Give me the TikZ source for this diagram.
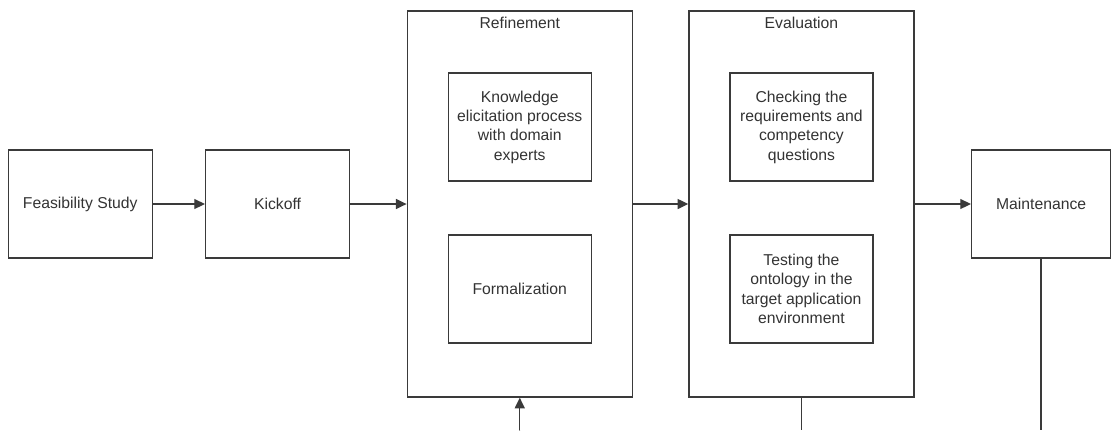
\documentclass[tikz,border=0pt]{standalone}
\usepackage{fontspec}
\setmainfont{Liberation Sans}
\usepackage{xcolor}
\usetikzlibrary{positioning}
\usetikzlibrary{arrows.meta}
\usetikzlibrary{calc}

\definecolor{linegray}{HTML}{3A3A3A}
\definecolor{textgray}{HTML}{333333}

\begin{document}
\begin{tikzpicture}[>={Triangle[length=8pt,width=7.5pt]}, line width=1pt, draw=linegray,
                    font=\fontsize{11.8}{14.5}\selectfont, text=textgray,
                    phase box/.style={rectangle,draw=linegray,minimum width=108pt,minimum height=81pt,align=center},
                    stage box/.style={rectangle,draw=linegray,minimum width=168.75pt,minimum height=289.5pt},
                    task box/.style={rectangle,draw=linegray,minimum width=107.25pt,minimum height=81pt,align=center}]
      \useasboundingbox (0,0) rectangle (835.5pt,-322.5pt);

      % main phases
      \node[phase box] (feas) at (60.2pt,-153pt) {Feasibility Study};
      \node[phase box] (kick) [right=39pt of feas] {Kickoff};
      \node[stage box] (refine) [right=42.25pt of kick] {};
      \node[stage box] (eval) [right=41.5pt of refine] {};
      \node[phase box, minimum width=104.25pt] (maint) [right=42.25pt of eval] {Maintenance};

      % titles of the two stages
      \node[anchor=north, inner sep=4.5pt] (refine title) at (refine.north) {Refinement};
      \node[anchor=north, inner sep=4.5pt] (eval title) at (eval.north) {Evaluation};

      % activities inside the stages
      \node[task box] (elicit) [below=46.5pt of refine.north] {Knowledge\\elicitation process\\with domain\\experts};
      \node[task box] (formal) [below=39.5pt of elicit] {Formalization};
      \node[task box] (check) [below=46.5pt of eval.north] {Checking the\\requirements and\\competency\\questions};
      \node[task box] (test) [below=39.5pt of check] {Testing the\\ontology in the\\target application\\environment};

      % loose ends at the bottom
      \coordinate (refine in) at (refine.south |- 0,-322.5pt);
      \coordinate (eval out) at (eval.south |- 0,-322.5pt);
      \coordinate (maint out) at (maint.south |- 0,-322.5pt);

      \path[->, draw=linegray]
	(feas) edge (kick)
	(kick) edge (refine)
	(refine) edge (eval)
	(eval) edge (maint)
	(refine in) edge (refine);
      \path[draw=linegray]
	(eval.south) edge (eval out)
	(maint.south) edge (maint out);

    \end{tikzpicture}
\end{document}
